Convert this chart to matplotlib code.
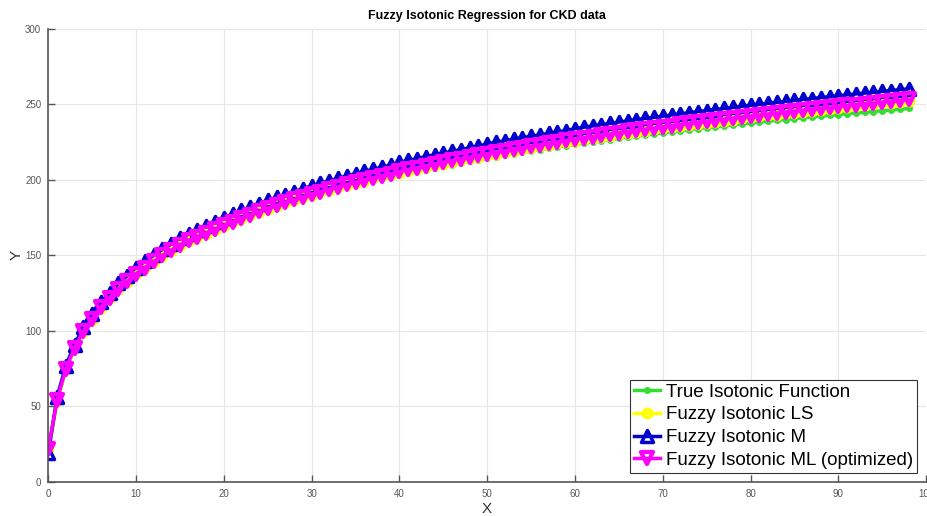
import numpy as np
import matplotlib.pyplot as plt
from matplotlib.markers import MarkerStyle

plt.rcParams['font.family'] = ['Liberation Sans', 'DejaVu Sans']

# values (x = 0, 1, 2, ...)
true_iso = [20, 53, 74, 88, 99, 107.5, 115.5, 121.5, 127, 132, 137, 141, 145, 149, 152.5, 155.5, 158.5, 161, 163.5, 166,
            168.5, 170.8, 173.2, 175.4, 177.5, 179.6, 181.6, 183.5, 185.4, 187.2, 188.6, 190.3, 191.8, 193.4, 195.0,
            196.4, 197.9, 199.3, 200.6, 201.9, 203.1, 204.4, 205.6, 206.8, 208.0, 209.1, 210.2, 211.3, 212.4, 213.4,
            214.3, 215.3, 216.3, 217.2, 218.2, 219.1, 220.0, 220.9, 221.8, 222.6, 223.5, 224.3, 225.1, 225.9, 226.7,
            227.5, 228.3, 229.0, 229.7, 230.4, 231.2, 231.9, 232.6, 233.3, 234.0, 234.6, 235.2, 235.9, 236.5, 237.1,
            237.7, 238.3, 238.9, 239.5, 240.0, 240.6, 241.2, 241.7, 242.2, 242.8, 243.3, 243.8, 244.3, 244.8, 245.3,
            245.8, 246.3, 246.8, 247.3]
fuzzy_ls = [21.5, 53.5, 74.5, 88.5, 99.5, 107.5, 115.5, 121.5, 127.5, 132.5, 137.5, 141.5, 145.5, 149.5, 153, 156.5,
            159.5, 162, 164.5, 167, 169.5, 171.9, 174.3, 176.5, 178.7, 180.8, 182.8, 184.7, 186.6, 188.4, 190.1, 191.8,
            193.4, 195.0, 196.6, 198.1, 199.6, 201.0, 202.4, 203.7, 204.6, 205.9, 207.1, 208.4, 209.6, 210.8, 211.9,
            213.1, 214.2, 215.3, 216.3, 217.4, 218.4, 219.4, 220.4, 221.4, 222.3, 223.3, 224.2, 225.1, 226.0, 226.9,
            227.7, 228.6, 229.4, 230.3, 231.1, 231.9, 232.7, 233.4, 234.2, 235.0, 235.7, 236.5, 237.2, 237.9, 238.6,
            239.3, 240.0, 240.7, 241.4, 242.0, 242.7, 243.3, 244.0, 244.6, 245.3, 245.9, 246.5, 247.1, 247.7, 248.3,
            248.9, 249.5, 250.0, 250.6, 251.2, 251.7, 252.3]
fuzzy_m = [19, 56, 77, 91, 102.5, 111, 119, 125, 131.5, 136.5, 142, 146, 150, 154, 157.5, 161.5, 164.5, 167, 169.5, 172,
           175, 177.4, 179.8, 182, 184.3, 186.4, 188.4, 190.3, 192.3, 194.1, 196.1, 197.8, 199.4, 201.0, 202.6, 204.1,
           205.6, 207.0, 208.4, 209.7, 211.6, 212.9, 214.1, 215.4, 216.6, 217.8, 218.9, 220.1, 221.2, 222.3, 223.8,
           224.9, 225.9, 226.9, 227.9, 228.9, 229.8, 230.8, 231.7, 232.6, 234.0, 234.9, 235.7, 236.6, 237.4, 238.3,
           239.1, 239.9, 240.7, 241.4, 242.2, 243.0, 243.7, 244.5, 245.2, 245.9, 246.6, 247.3, 248.0, 248.7, 249.4,
           250.0, 250.7, 251.3, 252.0, 252.6, 253.3, 253.9, 254.5, 255.1, 255.7, 256.3, 256.9, 257.5, 258.0, 258.6,
           259.2, 259.7, 260.3]
fuzzy_ml = [22, 54, 75, 89, 100, 108, 116, 122, 128, 133, 138, 142, 146, 150, 153.5, 157, 160, 162.5, 165, 167.5, 170,
            172.4, 174.8, 177, 179.2, 181.3, 183.3, 185.2, 187.1, 188.9, 190.6, 192.3, 193.9, 195.5, 197.1, 198.6,
            200.1, 201.5, 202.9, 204.2, 205.6, 206.9, 208.1, 209.4, 210.6, 211.8, 212.9, 214.1, 215.2, 216.3, 217.3,
            218.4, 219.4, 220.4, 221.4, 222.4, 223.3, 224.3, 225.2, 226.1, 227.0, 227.9, 228.7, 229.6, 230.4, 231.3,
            232.1, 232.9, 233.7, 234.4, 235.2, 236.0, 236.7, 237.5, 238.2, 238.9, 239.6, 240.3, 241.0, 241.7, 242.4,
            243.0, 243.7, 244.3, 245.0, 245.6, 246.3, 246.9, 247.5, 248.1, 248.7, 249.3, 249.9, 250.5, 251.0, 251.6,
            252.2, 252.7, 253.3]

fig = plt.figure(figsize=(9.28, 5.16), dpi=100)
ax = fig.add_axes([0.052, 0.066, 0.946, 0.878])

up = MarkerStyle('^', joinstyle='round')
down = MarkerStyle('v', joinstyle='round')

ax.plot(np.arange(len(true_iso)), true_iso, '-', marker='.', color='#33dd33', lw=2.5, ms=8,
        label='True Isotonic Function')
ax.plot(np.arange(len(fuzzy_ls)), fuzzy_ls, '-', marker='o', color='#ffff00', lw=2.5, ms=6, mew=2.5,
        mfc='none', label='Fuzzy Isotonic LS')
ax.plot(np.arange(len(fuzzy_m)), fuzzy_m, '-', marker=up, color='#0000cc', lw=2.5, ms=8.5, mew=2.5,
        mfc='none', label='Fuzzy Isotonic M')
ax.plot(np.arange(len(fuzzy_ml)), fuzzy_ml, '-', marker=down, color='#ff00ff', lw=2.5, ms=9, mew=3,
        mfc='none', label='Fuzzy Isotonic ML (optimized)')

ax.set_xlim(0, 100)
ax.set_ylim(0, 300)
ax.set_xticks(np.arange(0, 101, 10))
ax.set_yticks(np.arange(0, 301, 50))
ax.grid(True, color='#e6e6e6', lw=0.8)
ax.set_axisbelow(True)
for s in ['top', 'right']:
    ax.spines[s].set_visible(False)
for s in ['left', 'bottom']:
    ax.spines[s].set_color('#555555')
    ax.spines[s].set_linewidth(1.2)
ax.tick_params(direction='in', length=5, width=1, color='#555555', labelsize=7, labelcolor='#555555', pad=5)

ax.set_title('Fuzzy Isotonic Regression for CKD data', fontsize=9, fontweight='bold', pad=7)
ax.set_xlabel('X', fontsize=11, color='#333333', labelpad=2)
ax.set_ylabel('Y', fontsize=11, color='#333333', labelpad=1)

leg = ax.legend(loc='lower right', fontsize=13.5, handlelength=1.4, handletextpad=0.3, labelspacing=0.3,
                borderpad=0.2, borderaxespad=0.5, fancybox=False, framealpha=1, edgecolor='#333333')
leg.get_frame().set_linewidth(0.8)

plt.savefig('out.png', dpi=100)
